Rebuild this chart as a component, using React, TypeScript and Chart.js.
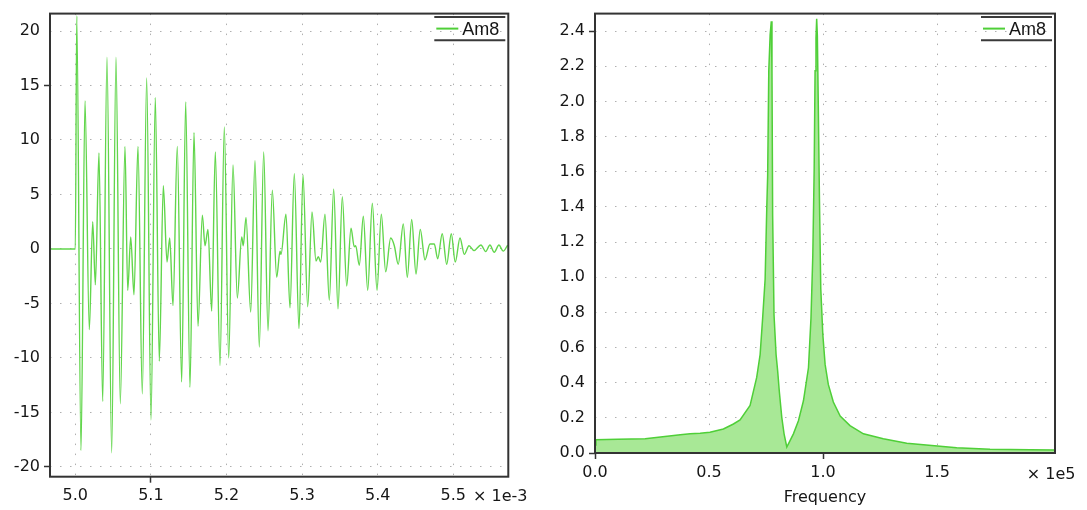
import React, { useEffect, useRef } from 'react';
import { Chart, registerables } from 'chart.js';
Chart.register(...registerables);

// ---- Left chart: time signal (time in ms, shown as "× 1e-3") ----
const timeMs = [
  4.9665, 5.0000, 5.0019, 5.0075, 5.0128, 5.0185, 5.0230, 5.0265, 5.0313, 5.0362,
  5.0419, 5.0481, 5.0538, 5.0595, 5.0657, 5.0693, 5.0733, 5.0776, 5.0829, 5.0886,
  5.0944, 5.1001, 5.1058, 5.1111, 5.1164, 5.1213, 5.1249, 5.1292, 5.1349, 5.1407,
  5.1460, 5.1517, 5.1570, 5.1623, 5.1680, 5.1716, 5.1755, 5.1804, 5.1852, 5.1914,
  5.1971, 5.2029, 5.2086, 5.2143, 5.2201, 5.2222, 5.2258, 5.2320, 5.2377, 5.2434,
  5.2492, 5.2549, 5.2606, 5.2664, 5.2708, 5.2721, 5.2787, 5.2840, 5.2897, 5.2959,
  5.3012, 5.3074, 5.3131, 5.3184, 5.3214, 5.3246, 5.3303, 5.3360, 5.3418, 5.3475,
  5.3532, 5.3590, 5.3647, 5.3690, 5.3709, 5.3757, 5.3810, 5.3868, 5.3929, 5.3991,
  5.4048, 5.4106, 5.4172, 5.4220, 5.4272, 5.4339, 5.4392, 5.4450, 5.4507, 5.4563,
  5.4626, 5.4692, 5.4749, 5.4794, 5.4854, 5.4913, 5.4974, 5.5026, 5.5089, 5.5146,
  5.5208, 5.5274, 5.5366, 5.5429, 5.5485, 5.5542, 5.5604, 5.5661, 5.5720,
];
const amplitude = [
  0, 0, 21.4, -18.5, 13.6, -7.4, 2.5, -3.3, 8.8, -14.0,
  17.6, -18.7, 17.6, -14.2, 9.4, -3.8, 1.1, -4.2, 9.4, -13.3,
  15.7, -15.7, 13.9, -10.3, 5.8, -1.2, 1.0, -5.2, 9.4, -12.2,
  13.5, -12.7, 10.7, -7.1, 3.1, 0.3, 1.8, -5.7, 8.9, -10.7,
  11.2, -10.0, 7.7, -4.5, 1.1, 0.3, 2.9, -5.8, 8.1, -9.0,
  8.9, -7.5, 5.4, -2.6, -0.2, -0.5, 3.2, -5.4, 6.9, -7.3,
  6.8, -5.3, 3.4, -1.1, -0.7, -1.2, 3.2, -4.7, 5.5, -5.5,
  4.8, -3.4, 1.9, 0.2, 0.3, -1.5, 3.0, -3.8, 4.2, -3.8,
  3.2, -2.1, 1.0, 0.3, -1.4, 2.3, -2.6, 2.7, -2.3, 1.8,
  -1.0, 0.45, 0.45, -0.9, 1.4, -1.4, 1.4, -1.2, 1.0, -0.5,
  0.3, -0.15, 0.36, -0.24, 0.36, -0.3, 0.36, -0.2, 0.36,
];
const timeTicks = [5.0, 5.1, 5.2, 5.3, 5.4, 5.5];
const ampTicks = [-20, -15, -10, -5, 0, 5, 10, 15, 20];

// ---- Right chart: spectrum (frequency shown as "× 1e5") ----
const freq = [
  0, 0.004, 0.1, 0.22, 0.374, 0.417, 0.461, 0.504, 0.563, 0.607,
  0.636, 0.68, 0.709, 0.724, 0.735, 0.746, 0.753, 0.757, 0.762, 0.768,
  0.773, 0.776, 0.779, 0.785, 0.794, 0.801, 0.808, 0.819, 0.829, 0.841,
  0.852, 0.87, 0.892, 0.914, 0.936, 0.947, 0.955, 0.961, 0.965, 0.969,
  0.972, 0.975, 0.979, 0.984, 0.99, 0.999, 1.009, 1.023, 1.045, 1.075,
  1.118, 1.177, 1.264, 1.367, 1.513, 1.586, 1.732, 1.908, 2.017,
];
const spectrum = [
  0.045, 0.076, 0.078, 0.081, 0.104, 0.109, 0.112, 0.118, 0.137, 0.165,
  0.188, 0.27, 0.43, 0.56, 0.766, 0.99, 1.386, 1.574, 2.175, 2.381,
  2.456, 2.175, 1.349, 0.785, 0.56, 0.466, 0.353, 0.203, 0.109, 0.034,
  0.062, 0.109, 0.184, 0.297, 0.485, 0.766, 1.123, 1.611, 2.175, 2.363,
  2.47, 2.372, 1.987, 1.461, 0.935, 0.673, 0.504, 0.39, 0.29, 0.21,
  0.156, 0.109, 0.081, 0.056, 0.038, 0.03, 0.021, 0.019, 0.017,
];
const freqTicks = [0, 0.5, 1.0, 1.5, 2.0];
const specTicks = [0, 0.2, 0.4, 0.6, 0.8, 1.0, 1.2, 1.4, 1.6, 1.8, 2.0, 2.2, 2.4];

const seriesLabel = 'Am8';
const lineGreen = '#4fcf38';
const waveGreen = '#62d64c';
const fillGreen = '#a8e896';
const tickFont = { family: '"DejaVu Sans", sans-serif', size: 16 };
const textColor = '#161616';

const frameLegend = {
  id: 'frameLegend',
  afterDraw(chart: any, _args: any, opts: any) {
    const { ctx, chartArea: a } = chart;
    ctx.save();
    ctx.strokeStyle = '#333';
    ctx.lineWidth = 2;
    ctx.strokeRect(a.left, a.top, a.right - a.left, a.bottom - a.top);
    const R = a.right;
    const y1 = a.top + 3.3;
    const y2 = a.top + 26.7;
    const mid = (y1 + y2) / 2;
    ctx.beginPath();
    ctx.moveTo(R - 74, y1); ctx.lineTo(R - 3, y1);
    ctx.moveTo(R - 74, y2); ctx.lineTo(R - 3, y2);
    ctx.strokeStyle = '#3a3a3a';
    ctx.lineWidth = 2;
    ctx.stroke();
    ctx.beginPath();
    ctx.moveTo(R - 72, mid); ctx.lineTo(R - 50, mid);
    ctx.strokeStyle = lineGreen;
    ctx.lineWidth = 2;
    ctx.stroke();
    ctx.fillStyle = textColor;
    ctx.font = '18px "Liberation Sans", Arial, sans-serif';
    ctx.textAlign = 'left';
    ctx.textBaseline = 'middle';
    ctx.fillText(opts.label, R - 46, mid + 1);
    // axis multiplier
    ctx.font = '16px "DejaVu Sans", sans-serif';
    ctx.textAlign = opts.multAlign;
    const xs = chart.scales.x;
    const mx = opts.multAlign === 'center' ? xs.getPixelForValue(opts.multAt) : opts.multX;
    ctx.fillText(opts.mult, mx, a.bottom + opts.multDy);
    ctx.restore();
  },
};

function axis(min: number, max: number, tickVals: number[], marked: number[], hiddenGrid: number[], fmt: (v: number) => string, size: { w?: number; h?: number }) {
  return {
    type: 'linear' as const,
    min,
    max,
    afterBuildTicks: (s: any) => { s.ticks = tickVals.map((v) => ({ value: v })); },
    afterFit: (s: any) => {
      if (size.w !== undefined) s.width = size.w;
      if (size.h !== undefined) s.height = size.h;
    },
    ticks: {
      autoSkip: false,
      maxRotation: 0,
      minRotation: 0,
      font: tickFont,
      color: textColor,
      padding: 4,
      callback: (v: any) => fmt(Number(v)),
    },
    grid: {
      color: (c: any) => (c.tick && hiddenGrid.includes(c.tick.value) ? 'rgba(0,0,0,0)' : '#b0b0b0'),
      lineWidth: 1,
      drawTicks: true,
      tickLength: 6,
      tickWidth: 1.5,
      tickColor: (c: any) => (c.tick && marked.includes(c.tick.value) ? '#333' : 'rgba(0,0,0,0)'),
      tickBorderDash: [],
    },
    border: { display: false, dash: [1.5, 8.5] },
  };
}

export default function App() {
  const leftRef = useRef<HTMLCanvasElement>(null);
  const rightRef = useRef<HTMLCanvasElement>(null);

  useEffect(() => {
    const left = new Chart(leftRef.current as HTMLCanvasElement, {
      type: 'line',
      data: {
        datasets: [{
          label: seriesLabel,
          data: timeMs.map((t, i) => ({ x: t, y: amplitude[i] })),
          borderColor: waveGreen,
          borderWidth: 1.4,
          pointRadius: 0,
          cubicInterpolationMode: 'monotone',
          fill: false,
        }],
      },
      options: {
        animation: false,
        responsive: false,
        layout: { padding: { left: 0, top: 9, right: 31.7, bottom: 0 } },
        scales: {
          x: axis(4.9665, 5.5728, timeTicks, [5.1], [], (v) => v.toFixed(1), { h: 33.3 }),
          y: axis(-20.9, 21.6, ampTicks, [15, -20], [], (v) => String(v), { w: 50 }),
        },
        plugins: {
          legend: { display: false },
          tooltip: { enabled: false },
          frameLegend: { label: seriesLabel, mult: '× 1e-3', multAlign: 'left', multX: 473, multDy: 20 },
        } as any,
      },
      plugins: [frameLegend],
    });

    const rightX: any = axis(0, 2.017, freqTicks, [0, 1.0], [0, 2.0], (v) => (v === 2.0 ? '' : v.toFixed(1)), { h: 57 });
    rightX.title = { display: true, text: 'Frequency', font: tickFont, color: textColor, padding: { top: 2, bottom: 2.5 } };

    const right = new Chart(rightRef.current as HTMLCanvasElement, {
      type: 'line',
      data: {
        datasets: [{
          label: seriesLabel,
          data: freq.map((f, i) => ({ x: f, y: spectrum[i] })),
          borderColor: lineGreen,
          backgroundColor: fillGreen,
          borderWidth: 1.5,
          pointRadius: 0,
          tension: 0,
          fill: 'origin',
        }],
      },
      options: {
        animation: false,
        responsive: false,
        layout: { padding: { left: 0, top: 9, right: 32, bottom: 0 } },
        scales: {
          x: rightX,
          y: axis(0, 2.5, specTicks, [2.4, 0], [0], (v) => v.toFixed(1), { w: 55 }),
        },
        plugins: {
          legend: { display: false },
          tooltip: { enabled: false },
          frameLegend: { label: seriesLabel, mult: '× 1e5', multAlign: 'center', multAt: 2.0, multDy: 22 },
        } as any,
      },
      plugins: [frameLegend],
    });

    return () => { left.destroy(); right.destroy(); };
  }, []);

  return (
    <div style={{ position: 'fixed', left: 0, top: 0, width: 1087, height: 510, background: '#fff' }}>
      <canvas ref={leftRef} width={540} height={510} style={{ position: 'absolute', left: 0, top: 0, width: 540, height: 510 }} />
      <canvas ref={rightRef} width={547} height={510} style={{ position: 'absolute', left: 540, top: 0, width: 547, height: 510 }} />
    </div>
  );
}
